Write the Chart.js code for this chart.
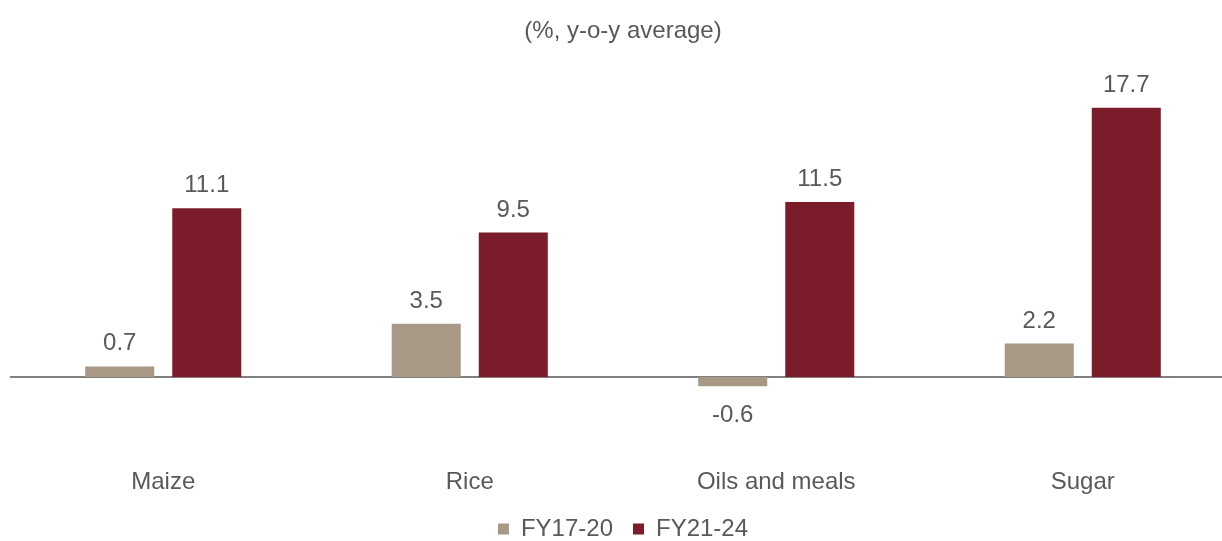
<!DOCTYPE html>
<html>
<head>
<meta charset="utf-8">
<script src="https://cdn.jsdelivr.net/npm/chart.js@4/dist/chart.umd.min.js"></script>
<style>
  html, body { margin: 0; padding: 0; background: #fff; overflow: hidden; }
  #wrap { width: 1236px; height: 551px; }
</style>
</head>
<body>
<div id="wrap"><canvas id="chart"></canvas></div>
<script>
// Data
let categories = ['Maize', 'Rice', 'Oils and meals', 'Sugar']
let seriesNames = ['FY17-20', 'FY21-24']
let fy1720 = [0.7, 3.5, -0.6, 2.2]
let fy2124 = [11.1, 9.5, 11.5, 17.7]
let seriesColors = ['#a89886', '#7b1c2a']

let textColor = '#595959'
let fontFamily = '"Liberation Sans", Arial, sans-serif'
let fontSize = 24

// Draws the zero line across the plot area
let zeroLine = {
    id: 'zeroLine',
    beforeDatasetsDraw(chart) {
        let ctx = chart.ctx
        let y = chart.scales.y.getPixelForValue(0)
        ctx.save()
        ctx.strokeStyle = '#808080'
        ctx.lineWidth = 2
        ctx.beginPath()
        ctx.moveTo(chart.chartArea.left, y)
        ctx.lineTo(chart.chartArea.right, y)
        ctx.stroke()
        ctx.restore()
    }
}

// Value labels above (or below for negatives) each bar
let valueLabels = {
    id: 'valueLabels',
    afterDatasetsDraw(chart) {
        let ctx = chart.ctx
        ctx.save()
        ctx.fillStyle = textColor
        ctx.font = fontSize + 'px ' + fontFamily
        ctx.textAlign = 'center'
        ctx.textBaseline = 'alphabetic'
        chart.data.datasets.forEach(function(ds, i) {
            chart.getDatasetMeta(i).data.forEach(function(bar, j) {
                let v = ds.data[j]
                if (v >= 0) {
                    ctx.fillText(v.toFixed(1), bar.x, bar.y - 16)
                } else {
                    ctx.fillText(v.toFixed(1), bar.x, bar.y + 36)
                }
            })
        })
        ctx.restore()
    }
}

let chart = new Chart(document.getElementById('chart'), {
    type: 'bar',
    data: {
        labels: categories,
        datasets: [
            { label: seriesNames[0], data: fy1720, backgroundColor: seriesColors[0] },
            { label: seriesNames[1], data: fy2124, backgroundColor: seriesColors[1] }
        ]
    },
    options: {
        responsive: true,
        maintainAspectRatio: false,
        animation: false,
        layout: { padding: { left: 10, right: 0, top: 17, bottom: 0 } },
        datasets: {
            bar: { categoryPercentage: 0.568, barPercentage: 0.793 }
        },
        scales: {
            x: {
                grid: { display: false, drawTicks: false },
                border: { display: false },
                ticks: { color: textColor, font: { family: fontFamily, size: fontSize }, padding: 0 }
            },
            y: {
                display: false,
                min: -5.99,
                max: 21.18
            }
        },
        plugins: {
            title: {
                display: true,
                text: '(%, y-o-y average)',
                color: textColor,
                font: { family: fontFamily, size: fontSize, weight: 'normal' },
                padding: { top: 0, bottom: 9 }
            },
            legend: {
                position: 'bottom',
                labels: {
                    color: textColor,
                    font: { family: fontFamily, size: fontSize },
                    boxWidth: 11,
                    boxHeight: 11,
                    padding: 20
                }
            },
            tooltip: { enabled: false }
        }
    },
    plugins: [zeroLine, valueLabels]
})
</script>
</body>
</html>
